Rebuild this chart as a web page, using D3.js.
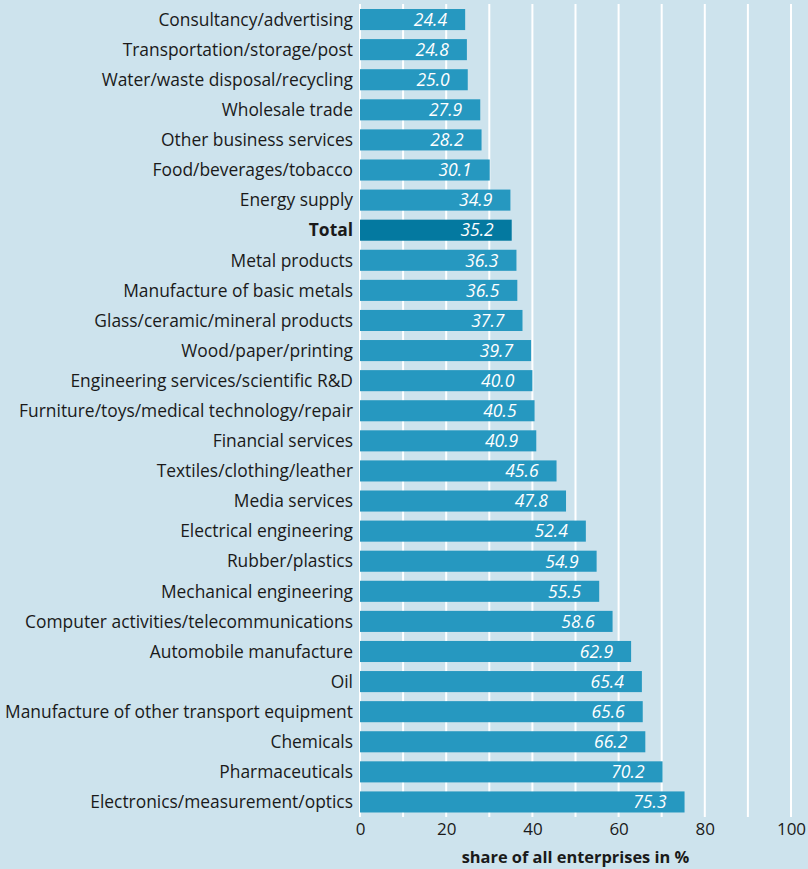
<!DOCTYPE html>
<html>
<head>
<meta charset="utf-8">
<script src="https://cdn.jsdelivr.net/npm/d3@7"></script>
<style>
  body { margin: 0; background: #cde3ed; }
  svg { display: block; font-family: "Open Sans", "Noto Sans", sans-serif; }
</style>
</head>
<body>
<svg id="chart" width="808" height="869"></svg>
<script>
// the data
const sectors = [
  "Consultancy/advertising", "Transportation/storage/post", "Water/waste disposal/recycling",
  "Wholesale trade", "Other business services", "Food/beverages/tobacco", "Energy supply",
  "Total", "Metal products", "Manufacture of basic metals", "Glass/ceramic/mineral products",
  "Wood/paper/printing", "Engineering services/scientific R&D",
  "Furniture/toys/medical technology/repair", "Financial services",
  "Textiles/clothing/leather", "Media services", "Electrical engineering", "Rubber/plastics",
  "Mechanical engineering", "Computer activities/telecommunications", "Automobile manufacture",
  "Oil", "Manufacture of other transport equipment", "Chemicals", "Pharmaceuticals",
  "Electronics/measurement/optics"
];
const shares = [24.4, 24.8, 25.0, 27.9, 28.2, 30.1, 34.9, 35.2, 36.3, 36.5, 37.7, 39.7, 40.0,
  40.5, 40.9, 45.6, 47.8, 52.4, 54.9, 55.5, 58.6, 62.9, 65.4, 65.6, 66.2, 70.2, 75.3];
const ticks = [0, 20, 40, 60, 80, 100];
const gridValues = [0, 10, 20, 30, 40, 50, 60, 70, 80, 90, 100];

const data = sectors.map((s, i) => ({ sector: s, share: shares[i] }));

let svg = d3.select("#chart");

let x = d3.scaleLinear().domain([0, 100]).range([360, 791]);
let y = d3.scaleBand()
    .domain(sectors)
    .range([4.5, 817])
    .paddingInner(0.3)
    .paddingOuter(0.15);

// grid
svg.append("g")
    .selectAll("line")
    .data(gridValues)
    .enter()
    .append("line")
    .attr("x1", d => x(d)).attr("x2", d => x(d))
    .attr("y1", 4).attr("y2", 817)
    .attr("stroke", "#fff")
    .attr("stroke-width", 2);

// bars
svg.append("g")
    .selectAll("rect")
    .data(data)
    .enter()
    .append("rect")
    .attr("x", x(0))
    .attr("y", d => y(d.sector))
    .attr("width", d => x(d.share) - x(0))
    .attr("height", y.bandwidth())
    .attr("fill", d => d.sector === "Total" ? "#0479a0" : "#2698c0");

// value labels
svg.append("g")
    .selectAll("text")
    .data(data)
    .enter()
    .append("text")
    .attr("x", d => x(d.share) - 18)
    .attr("y", d => y(d.sector) + y.bandwidth() / 2)
    .attr("dy", "0.36em")
    .attr("text-anchor", "end")
    .attr("fill", "#fff")
    .attr("font-style", "italic")
    .attr("font-size", 17.5)
    .text(d => d.share.toFixed(1));

// category labels
svg.append("g")
    .selectAll("text")
    .data(data)
    .enter()
    .append("text")
    .attr("x", 353)
    .attr("y", d => y(d.sector) + y.bandwidth() / 2)
    .attr("dy", "0.36em")
    .attr("text-anchor", "end")
    .attr("fill", "#1a1a1a")
    .attr("font-size", 17.4)
    .attr("font-weight", d => d.sector === "Total" ? "bold" : "normal")
    .text(d => d.sector);

// x axis
let xAxis = svg.append("g")
    .attr("transform", "translate(0,817)")
    .call(d3.axisBottom(x).tickValues(ticks).tickSize(0).tickPadding(6));
xAxis.select(".domain").remove();
xAxis.selectAll("text")
    .attr("font-size", 17)
    .attr("font-family", "\"Open Sans\", \"Noto Sans\", sans-serif")
    .attr("fill", "#1a1a1a");

svg.append("text")
    .attr("x", (x(0) + x(100)) / 2)
    .attr("y", 863)
    .attr("text-anchor", "middle")
    .attr("font-size", 16.4)
    .attr("font-weight", "bold")
    .attr("fill", "#1a1a1a")
    .text("share of all enterprises in %");
</script>
</body>
</html>
